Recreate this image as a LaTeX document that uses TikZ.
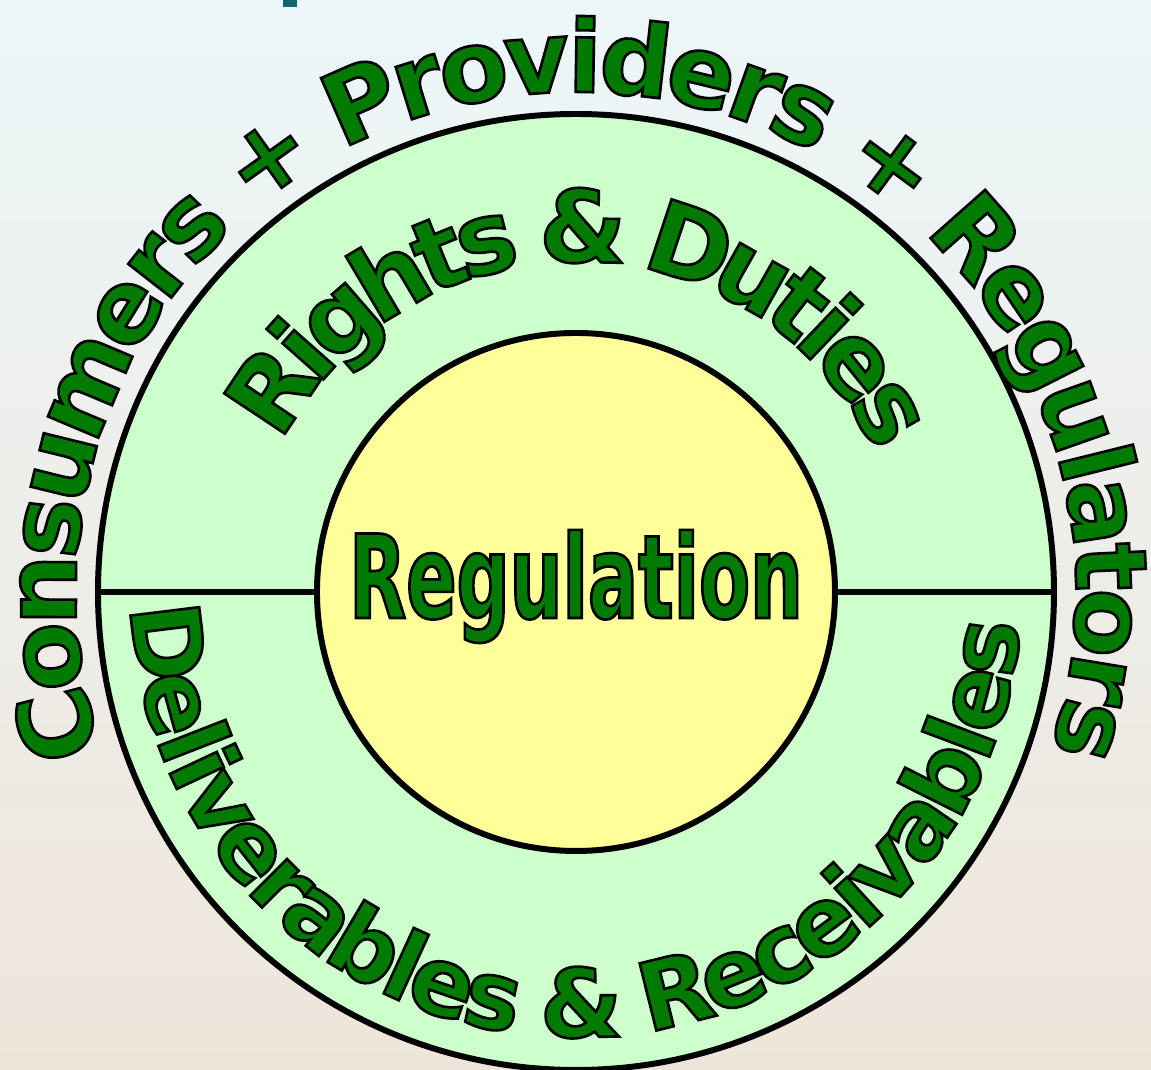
\documentclass[tikz,border=0pt]{standalone}
\usepackage{fontspec}
\usetikzlibrary{decorations.text}

\newfontfamily\arcfont{DejaVu Sans}
\newfontfamily\corefont{DejaVu Sans}[FakeStretch=0.64]

\definecolor{leafgreen}{RGB}{0,122,0}
\definecolor{ringgreen}{RGB}{204,255,204}
\definecolor{coreyellow}{RGB}{255,255,153}
\definecolor{skytop}{RGB}{236,246,248}
\definecolor{mistmid}{RGB}{246,248,246}
\definecolor{sandbottom}{RGB}{238,229,218}
\definecolor{titleteal}{RGB}{16,104,108}

% green letters with a thin black rim
\newcommand\inkrim{\special{pdf:literal direct 2 Tr 1.5 w 0 0 0 RG}}
\newcommand\greenink{\color{leafgreen}\inkrim}
\newcommand\upperink{\arcfont\bfseries\fontsize{56.9pt}{60pt}\selectfont\greenink}
\newcommand\lowerink{\arcfont\bfseries\fontsize{54pt}{58pt}\selectfont\greenink}

\begin{document}
\begin{tikzpicture}[
  rim/.style={draw=black, line width=3.4pt},
  disc/.style={rim, circle, inner sep=0pt, outer sep=0pt},
  corelabel/.style={anchor=base, inner sep=0pt,
    font=\corefont\bfseries\fontsize{66pt}{70pt}\selectfont}]

% background
  \path[use as bounding box] (-11.52,-9.56) rectangle (11.50,11.84);
  \shade[top color=skytop, middle color=mistmid, bottom color=sandbottom]
    (-11.52,-9.56) rectangle (11.50,11.84);
  \fill[titleteal] (-5.86,11.70) rectangle (-5.58,11.84);

% define the two discs
  \node[disc, fill=ringgreen, minimum size=19.12cm]  (ring) at (0,0) {};
  \node[disc, fill=coreyellow, minimum size=10.36cm] (core) at (0,0) {};

% define the split line
  \draw[rim] (ring.west) -- (core.west);
  \draw[rim] (core.east) -- (ring.east);

% centre word
  \node[corelabel] (hub) at (0,-0.52) {\greenink Regulation};

% words along the arcs
  \path[decorate, decoration={text along path, text align=center, raise=-1.04cm,
      text={|\upperink|Consumers + Providers + Regulators}}]
    (220:11.04) arc[start angle=220, end angle=-40, radius=11.04];
  \path[decorate, decoration={text along path, text align=center, raise=-1.4cm,
      text={|\upperink|Rights {\&} Duties}}]
    (189:8.0) arc[start angle=189, end angle=-11.5, radius=8.0];
  \path[decorate, decoration={text along path, text align=center, raise=0.7cm,
      text={|\lowerink|Deliverables {\&} Receivables}}]
    (149:9.6) arc[start angle=149, end angle=389, radius=9.6];

\end{tikzpicture}
\end{document}
